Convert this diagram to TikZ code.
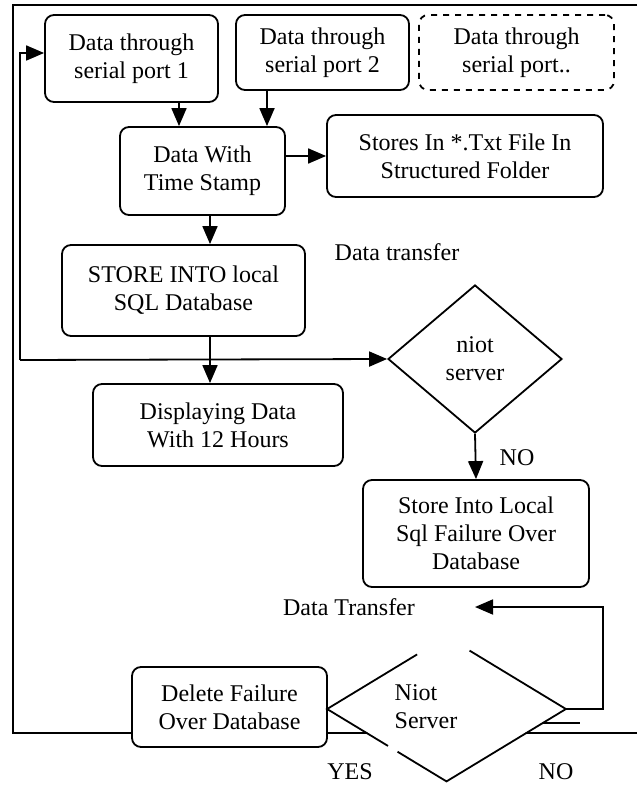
\documentclass[tikz,border=0pt]{standalone}
\usepackage{fontspec}
\setmainfont{Liberation Serif}
\usetikzlibrary{arrows.meta, shapes.geometric, calc}
\tikzset{
  every picture/.style={line width=0.9pt},
  every node/.style={font=\fontsize{12}{14}\selectfont},
  pbox/.style={draw, rounded corners=4.5pt, align=center, inner sep=0pt, fill=white},
  decide/.style={diamond, inner sep=0pt, align=center, fill=white},
  flow/.style={-{Triangle[length=9pt, width=7.5pt]}}
}

\begin{document}
\begin{tikzpicture}[x=0.5pt, y=-0.5pt]
    \useasboundingbox (0,0) rectangle (637,786);
    % frame round the whole chart
    \draw (637,5) -- (13,5) -- (13,733) -- (637,733);
    \draw (500,723) -- (580,723);

    \node [pbox, minimum width=86.5pt, minimum height=43.5pt] (port1) at (131.5,58.5) {Data through\\serial port 1};
    \node [pbox, minimum width=86.5pt, minimum height=37.5pt] (port2) at (322.5,52.5) {Data through\\serial port 2};
    \node [pbox, dashed, minimum width=97.5pt, minimum height=37.5pt] (portn) at (516.5,52.5) {Data through\\serial port..};
    \node [pbox, minimum width=82.5pt, minimum height=44pt] (stamp) at (202.5,171) {Data With\\Time Stamp};
    \node [pbox, minimum width=138pt, minimum height=41pt] (txtfile) at (465,156) {Stores In *.Txt File In\\Structured Folder};
    \node [pbox, minimum width=121.5pt, minimum height=45.5pt] (sqlstore) at (183.5,290.5) {STORE INTO local\\SQL Database};
    \node [pbox, minimum width=125pt, minimum height=41pt] (display) at (218,425) {Displaying Data\\With 12 Hours};
    \node [decide, draw, minimum width=87pt, minimum height=74pt] (niot1) at (475,359) {niot\\server};
    \node [pbox, minimum width=113pt, minimum height=53.5pt] (failstore) at (476,533.5) {Store Into Local\\Sql Failure Over\\Database};
    \node [pbox, minimum width=97.5pt, minimum height=40pt] (delete) at (229.5,707) {Delete Failure\\Over Database};
    \node [decide, minimum width=118.5pt, minimum height=71.5pt] (niot2) at (446.5,709) {};
    \node [align=left, inner sep=0pt] (niot2text) at (426,707) {Niot\\Server};

    % broken outline of the lower decision
    \draw (niot2.east) -- (niot2.south) -- ($(niot2.west)!0.59!(niot2.south)$);
    \draw ($(niot2.west)!0.51!(niot2.south)$) -- (niot2.west) -- ($(niot2.west)!0.754!(niot2.north)$);
    \draw (niot2.east) -- ($(niot2.east)!0.807!(niot2.north)$);

    \node (transfer1) at (397,252) {Data transfer};
    \node (transfer2) at (349,607) {Data Transfer};
    \node (no1) at (517,458) {NO};
    \node (yes2) at (350,772) {YES};
    \node (no2) at (556,772) {NO};

    \coordinate (x1) at (179,0);
    \coordinate (x2) at (267,0);
    \coordinate (x3) at (210,0);
    \coordinate (loop) at (20,360);
    \coordinate (turn) at (603,607);
    \coordinate (back) at (475,607);

    \draw [flow] (port1.south -| x1) -- (stamp.north -| x1);
    \draw [flow] (port2.south -| x2) -- (stamp.north -| x2);
    \draw [flow] (stamp.east |- txtfile.west) -- (txtfile.west);
    \draw [flow] (stamp.south -| x3) -- (sqlstore.north -| x3);
    \draw [flow] (sqlstore.south -| x3) -- (display.north -| x3);
    \draw [flow] (loop) -- (niot1.west);
    \draw [flow] (loop) |- ([yshift=2.75pt]port1.west);
    \draw [flow] (niot1.south) -- (failstore.north);
    \draw [flow] (niot2.east) -| (turn) -- (back);
\end{tikzpicture}
\end{document}
